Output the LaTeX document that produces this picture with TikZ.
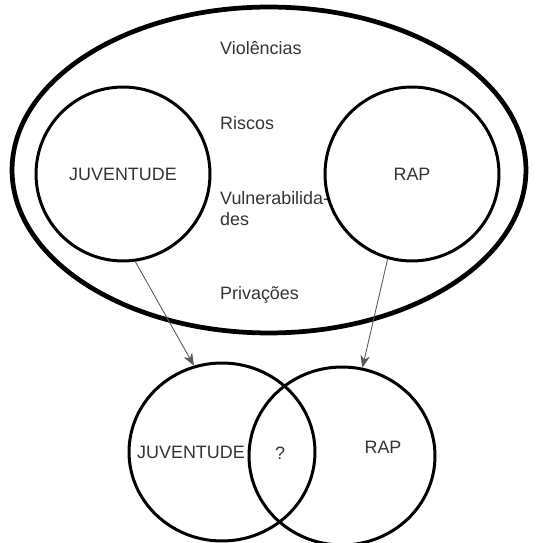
\documentclass[tikz,border=0pt]{standalone}
\usepackage{fontspec}
\setmainfont{Liberation Sans}
\usetikzlibrary{shapes.geometric,arrows.meta}

\begin{document}
\begin{tikzpicture}[x=0.02cm, y=-0.02cm, >={Stealth[length=7pt,width=5.5pt]},
  rotulo/.style={text=black!80, font=\fontsize{10.2}{12}\selectfont},
  roda/.style={draw, circle, line width=1.7pt, minimum size=3.48cm, inner sep=0pt, rotulo},
  venn/.style={draw, ellipse, line width=1.7pt, minimum width=3.72cm, minimum height=3.56cm, inner sep=0pt},
  seta/.style={->, black!65, line width=0.5pt}]

  \useasboundingbox (0,0) rectangle (550,543);

  % Elipse externa (contexto)
  \node[draw, ellipse, line width=2.7pt, minimum width=10.28cm, minimum height=6.52cm] (contexto) at (269,170) {};

  % Termos do contexto
  \node[rotulo, anchor=west] (violencias) at (214,48)  {Violências};
  \node[rotulo, anchor=west] (riscos)     at (214,123) {Riscos};
  \node[rotulo, anchor=west, align=left] (vulner) at (214,209) {Vulnerabilida-\\des};
  \node[rotulo, anchor=west] (privacoes)  at (214,295) {Privações};

  % Círculos de cima
  \node[roda] (juv) at (123,174) {JUVENTUDE};
  \node[roda] (rap) at (412,174) {RAP};

  % Diagrama de Venn
  \node[venn] (juvB) at (222,452) {};
  \node[venn] (rapB) at (342,456) {};
  \node[rotulo] (juvtxt) at (191,452) {JUVENTUDE};
  \node[rotulo] (duvida) at (280,453) {?};
  \node[rotulo] (raptxt) at (383,447) {RAP};

  % Setas
  \draw[seta] (juv.-82)  -- (juvB.108);
  \draw[seta] (rap.-106) -- (rapB.77);

\end{tikzpicture}
\end{document}
